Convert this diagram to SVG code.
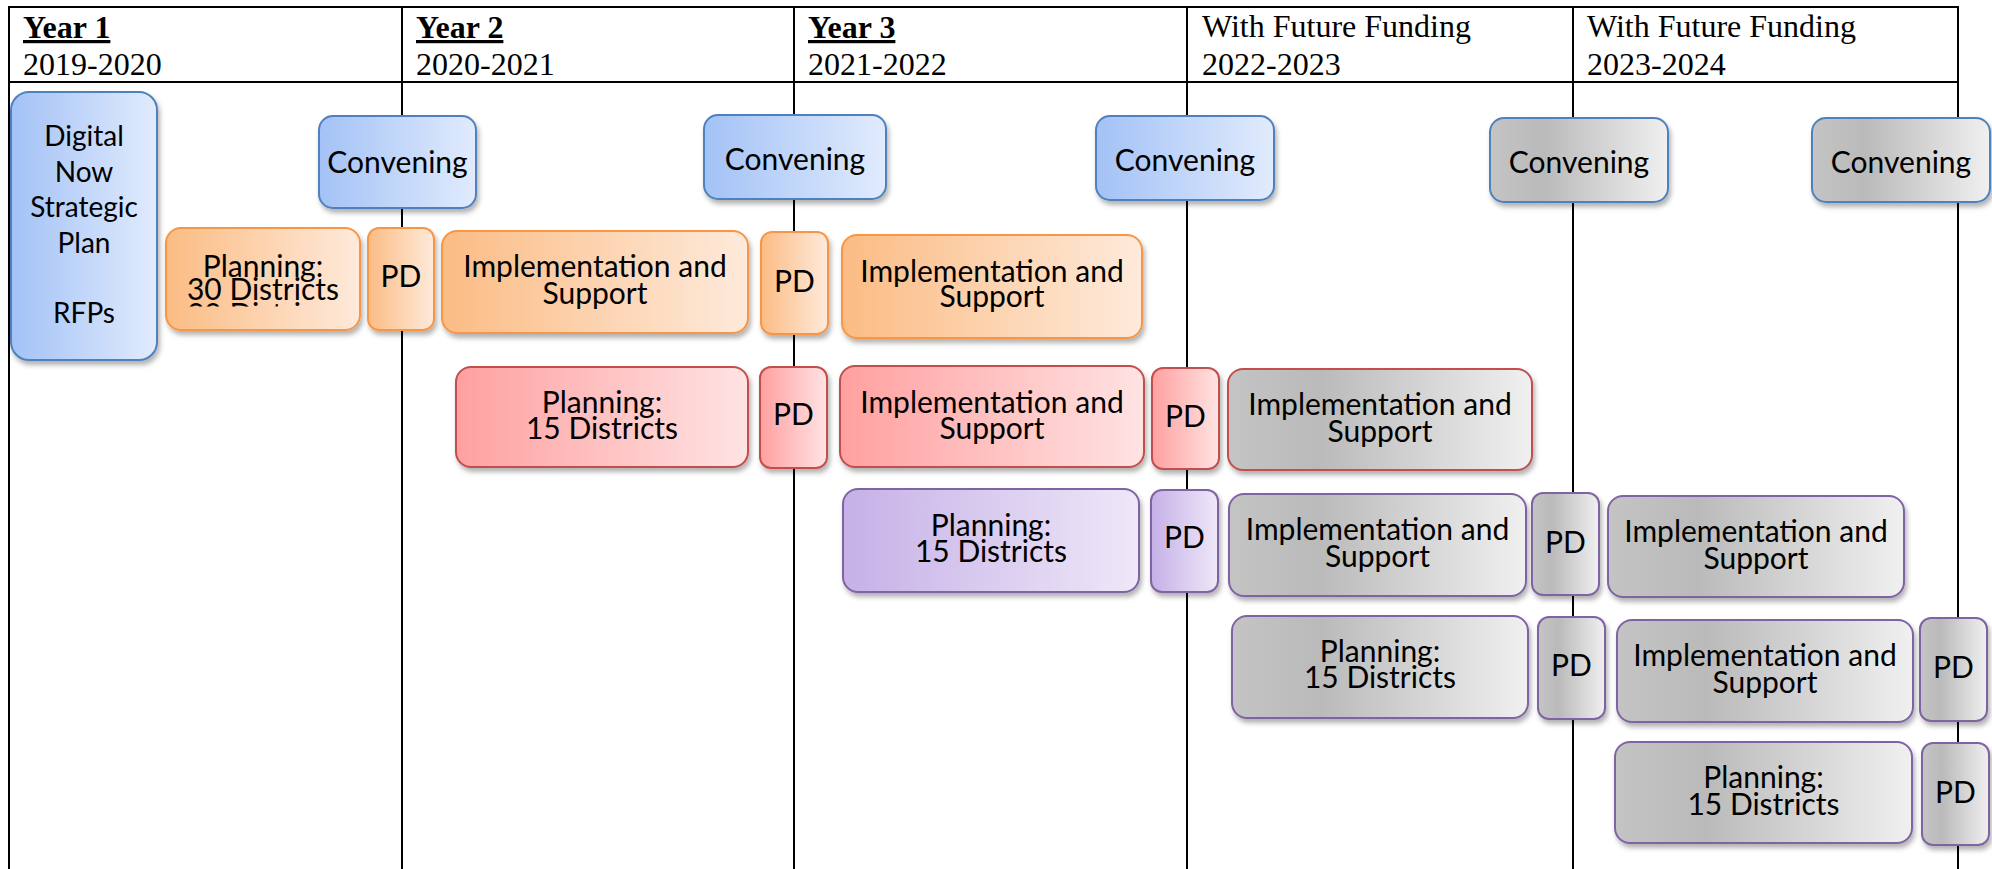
<svg xmlns="http://www.w3.org/2000/svg" width="1992" height="869" viewBox="0 0 1992 869">
  <defs>
    <style>
      .grid { stroke: #000; stroke-width: 2; fill: none; }
      .hd { font-family: "Liberation Serif", "Times New Roman", serif; font-size: 32px; fill: #000; }
      .hb { font-weight: bold; text-decoration: underline; }
      .lbl { font-family: Lato, "Liberation Sans", sans-serif; font-size: 30px; fill: #000; text-anchor: middle; }
      .sm { font-size: 28px; }
      .box { stroke-width: 2; filter: url(#shadow); }
      .blue { fill: url(#gBlue); stroke: #4f81bd; }
      .orange { fill: url(#gOrange); stroke: #f79646; }
      .red { fill: url(#gRed); stroke: #c0504d; }
      .purple { fill: url(#gPurple); stroke: #8064a2; }
      .grayB { fill: url(#gGray); stroke: #4f81bd; }
      .grayR { fill: url(#gGray); stroke: #c0504d; }
      .grayP { fill: url(#gGray); stroke: #8064a2; }
    </style>
    <linearGradient id="gBlue" x1="0" y1="0" x2="1" y2="0">
      <stop offset="0" stop-color="#a3c2f6"/>
      <stop offset="1" stop-color="#e1ebfd"/>
    </linearGradient>
    <linearGradient id="gOrange" x1="0" y1="0" x2="1" y2="0">
      <stop offset="0" stop-color="#fbbc84"/>
      <stop offset="1" stop-color="#feeadb"/>
    </linearGradient>
    <linearGradient id="gRed" x1="0" y1="0" x2="1" y2="0">
      <stop offset="0" stop-color="#ffa0a0"/>
      <stop offset="1" stop-color="#ffe3e3"/>
    </linearGradient>
    <linearGradient id="gPurple" x1="0" y1="0" x2="1" y2="0">
      <stop offset="0" stop-color="#c6b0e7"/>
      <stop offset="1" stop-color="#eee8f8"/>
    </linearGradient>
    <linearGradient id="gGray" x1="0" y1="0" x2="1" y2="0">
      <stop offset="0" stop-color="#c4c4c4"/>
      <stop offset="0.3" stop-color="#bababa"/>
      <stop offset="1" stop-color="#f0f0f0"/>
    </linearGradient>
    <filter id="shadow" x="-10%" y="-10%" width="125%" height="130%">
      <feDropShadow dx="2" dy="4" stdDeviation="2.5" flood-color="#000" flood-opacity="0.3"/>
    </filter>
    <!-- the overflowing third line of the 30-district label only peeks out as a thin strip -->
    <clipPath id="overflowClip">
      <rect x="166" y="228" width="194" height="76"/>
      <rect x="188" y="304" width="112" height="2.6"/>
    </clipPath>
  </defs>

  <rect width="1992" height="869" fill="#fff"/>

  <!-- table grid: outer frame, header rule and year columns -->
  <g id="grid" class="grid">
    <line x1="8" y1="7" x2="1959" y2="7"/>
    <line x1="8" y1="82" x2="1959" y2="82"/>
    <line x1="9" y1="6" x2="9" y2="869"/>
    <line x1="402" y1="6" x2="402" y2="869"/>
    <line x1="794" y1="6" x2="794" y2="869"/>
    <line x1="1187" y1="6" x2="1187" y2="869"/>
    <line x1="1573" y1="6" x2="1573" y2="869"/>
    <line x1="1958" y1="6" x2="1958" y2="869"/>
  </g>

  <!-- column headings -->
  <g id="headings">
    <text class="hd" x="23" y="38"><tspan class="hb">Year 1</tspan><tspan x="23" y="75">2019-2020</tspan></text>
    <text class="hd" x="416" y="38"><tspan class="hb">Year 2</tspan><tspan x="416" y="75">2020-2021</tspan></text>
    <text class="hd" x="808" y="38"><tspan class="hb">Year 3</tspan><tspan x="808" y="75">2021-2022</tspan></text>
    <text class="hd" x="1202" y="37">With Future Funding<tspan x="1202" y="75">2022-2023</tspan></text>
    <text class="hd" x="1587" y="37">With Future Funding<tspan x="1587" y="75">2023-2024</tspan></text>
  </g>

  <!-- no connectors in this timeline -->
  <g id="connectors"/>

  <!-- start-up -->
  <g id="strategic-plan">
    <rect class="box blue" x="11" y="92" width="146" height="268" rx="18"/>
    <text class="lbl sm" x="84" y="146">Digital<tspan x="84" y="182">Now</tspan><tspan x="84" y="217">Strategic</tspan><tspan x="84" y="253">Plan</tspan><tspan x="84" y="323">RFPs</tspan></text>
  </g>

  <!-- convenings -->
  <g id="convening-1">
    <rect class="box blue" x="319" y="116" width="157" height="92" rx="14"/>
    <text class="lbl" x="397.5" y="173">Convening</text>
  </g>
  <g id="convening-2">
    <rect class="box blue" x="704" y="115" width="182" height="84" rx="14"/>
    <text class="lbl" x="795" y="170">Convening</text>
  </g>
  <g id="convening-3">
    <rect class="box blue" x="1096" y="116" width="178" height="84" rx="14"/>
    <text class="lbl" x="1185" y="171">Convening</text>
  </g>
  <g id="convening-4">
    <rect class="box grayB" x="1490" y="118" width="178" height="84" rx="14"/>
    <text class="lbl" x="1579" y="173">Convening</text>
  </g>
  <g id="convening-5">
    <rect class="box grayB" x="1812" y="118" width="178" height="84" rx="14"/>
    <text class="lbl" x="1901" y="173">Convening</text>
  </g>

  <!-- cohort 1 (orange) -->
  <g id="c1-planning">
    <rect class="box orange" x="166" y="228" width="194" height="102" rx="15"/>
    <text class="lbl" x="263" y="277" clip-path="url(#overflowClip)">Planning:<tspan x="263" y="300">30 Districts</tspan><tspan x="263" y="325">30 Districts</tspan></text>
  </g>
  <g id="c1-pd-1">
    <rect class="box orange" x="368" y="228" width="66" height="102" rx="11"/>
    <text class="lbl" x="401" y="287">PD</text>
  </g>
  <g id="c1-impl-1">
    <rect class="box orange" x="442" y="231" width="306" height="102" rx="15"/>
    <text class="lbl" x="595" y="277">Implementation and<tspan x="595" y="304">Support</tspan></text>
  </g>
  <g id="c1-pd-2">
    <rect class="box orange" x="761" y="232" width="67" height="102" rx="11"/>
    <text class="lbl" x="794.5" y="292">PD</text>
  </g>
  <g id="c1-impl-2">
    <rect class="box orange" x="842" y="235" width="300" height="103" rx="15"/>
    <text class="lbl" x="992" y="282">Implementation and<tspan x="992" y="307">Support</tspan></text>
  </g>

  <!-- cohort 2 (red) -->
  <g id="c2-planning">
    <rect class="box red" x="456" y="367" width="292" height="100" rx="15"/>
    <text class="lbl" x="602" y="413">Planning:<tspan x="602" y="439">15 Districts</tspan></text>
  </g>
  <g id="c2-pd-1">
    <rect class="box red" x="760" y="367" width="67" height="101" rx="11"/>
    <text class="lbl" x="793.5" y="425">PD</text>
  </g>
  <g id="c2-impl-1">
    <rect class="box red" x="840" y="366" width="304" height="101" rx="15"/>
    <text class="lbl" x="992" y="413">Implementation and<tspan x="992" y="439">Support</tspan></text>
  </g>
  <g id="c2-pd-2">
    <rect class="box red" x="1152" y="368" width="67" height="101" rx="11"/>
    <text class="lbl" x="1185.5" y="427">PD</text>
  </g>
  <g id="c2-impl-2">
    <rect class="box grayR" x="1228" y="369" width="304" height="101" rx="15"/>
    <text class="lbl" x="1380" y="415">Implementation and<tspan x="1380" y="442">Support</tspan></text>
  </g>

  <!-- cohort 3 (purple) -->
  <g id="c3-planning">
    <rect class="box purple" x="843" y="489" width="296" height="103" rx="15"/>
    <text class="lbl" x="991" y="536">Planning:<tspan x="991" y="562">15 Districts</tspan></text>
  </g>
  <g id="c3-pd-1">
    <rect class="box purple" x="1151" y="490" width="67" height="102" rx="11"/>
    <text class="lbl" x="1184.5" y="548">PD</text>
  </g>
  <g id="c3-impl-1">
    <rect class="box grayP" x="1229" y="494" width="297" height="102" rx="15"/>
    <text class="lbl" x="1377.5" y="540">Implementation and<tspan x="1377.5" y="567">Support</tspan></text>
  </g>
  <g id="c3-pd-2">
    <rect class="box grayP" x="1532" y="493" width="67" height="102" rx="11"/>
    <text class="lbl" x="1565.5" y="553">PD</text>
  </g>
  <g id="c3-impl-2">
    <rect class="box grayP" x="1608" y="496" width="296" height="101" rx="15"/>
    <text class="lbl" x="1756" y="542">Implementation and<tspan x="1756" y="569">Support</tspan></text>
  </g>

  <!-- cohort 4 (future funding) -->
  <g id="c4-planning">
    <rect class="box grayP" x="1232" y="616" width="296" height="102" rx="15"/>
    <text class="lbl" x="1380" y="662">Planning:<tspan x="1380" y="688">15 Districts</tspan></text>
  </g>
  <g id="c4-pd-1">
    <rect class="box grayP" x="1538" y="617" width="67" height="102" rx="11"/>
    <text class="lbl" x="1571.5" y="676">PD</text>
  </g>
  <g id="c4-impl-1">
    <rect class="box grayP" x="1617" y="620" width="296" height="102" rx="15"/>
    <text class="lbl" x="1765" y="666">Implementation and<tspan x="1765" y="693">Support</tspan></text>
  </g>
  <g id="c4-pd-2">
    <rect class="box grayP" x="1920" y="618" width="67" height="103" rx="11"/>
    <text class="lbl" x="1953.5" y="678">PD</text>
  </g>

  <!-- cohort 5 (future funding) -->
  <g id="c5-planning">
    <rect class="box grayP" x="1615" y="742" width="297" height="101" rx="15"/>
    <text class="lbl" x="1763.5" y="788">Planning:<tspan x="1763.5" y="815">15 Districts</tspan></text>
  </g>
  <g id="c5-pd-1">
    <rect class="box grayP" x="1922" y="743" width="67" height="102" rx="11"/>
    <text class="lbl" x="1955.5" y="803">PD</text>
  </g>
</svg>
